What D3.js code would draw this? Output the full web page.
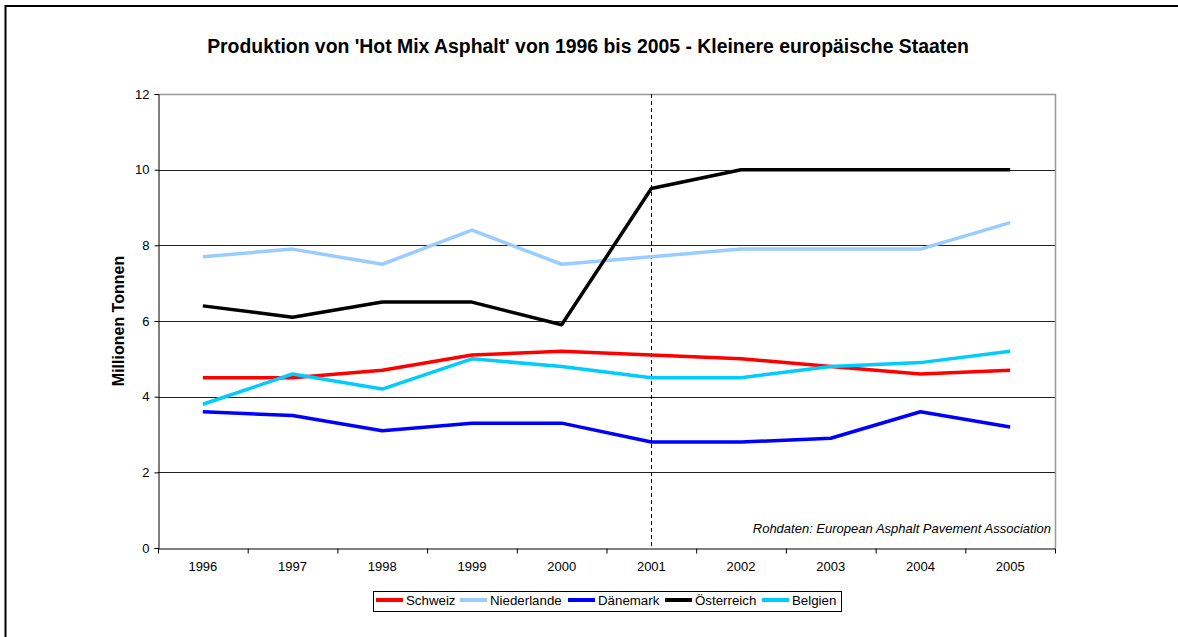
<!DOCTYPE html>
<meta charset="utf-8">
<style>
body { margin: 0; background: #fff; }
text { font-family: Arial, "Liberation Sans", sans-serif; }
.tick text { font-family: Arial, "Liberation Sans", sans-serif; font-size: 13px; fill: #000; }
</style>
<svg width="1178" height="637"></svg>
<script src="https://d3js.org/d3.v7.min.js"></script>
<script>
const years = ['1996', '1997', '1998', '1999', '2000', '2001', '2002', '2003', '2004', '2005'];
const schweiz = [4.5, 4.5, 4.7, 5.1, 5.2, 5.1, 5.0, 4.8, 4.6, 4.7];
const niederlande = [7.7, 7.9, 7.5, 8.4, 7.5, 7.7, 7.9, 7.9, 7.9, 8.6];
const daenemark = [3.6, 3.5, 3.1, 3.3, 3.3, 2.8, 2.8, 2.9, 3.6, 3.2];
const oesterreich = [6.4, 6.1, 6.5, 6.5, 5.9, 9.5, 10, 10, 10, 10];
const belgien = [3.8, 4.6, 4.2, 5.0, 4.8, 4.5, 4.5, 4.8, 4.9, 5.2];
const yTicks = [0, 2, 4, 6, 8, 10, 12];

const series = [
  { name: 'Schweiz', values: schweiz, color: '#FF0000' },
  { name: 'Niederlande', values: niederlande, color: '#99CCFF' },
  { name: 'Dänemark', values: daenemark, color: '#0000FF' },
  { name: 'Österreich', values: oesterreich, color: '#000000' },
  { name: 'Belgien', values: belgien, color: '#00CCFF' }
];

const svg = d3.select('svg');
const pLeft = 158, pRight = 1055, pTop = 94, pBottom = 548;

// outer frame (runs off the right/bottom edge)
svg.append('rect')
  .attr('x', 5.5).attr('y', 6)
  .attr('width', 1300).attr('height', 800)
  .attr('fill', 'none').attr('stroke', '#000').attr('stroke-width', 2);

svg.append('text')
  .attr('x', 588).attr('y', 53)
  .attr('text-anchor', 'middle')
  .attr('font-size', '19.4px').attr('font-weight', 'bold')
  .text("Produktion von 'Hot Mix Asphalt' von 1996 bis 2005 - Kleinere europäische Staaten");

const x = d3.scaleBand().domain(years).range([pLeft, pRight]);
const y = d3.scaleLinear().domain([0, 12]).range([pBottom, pTop]);

// gridlines
svg.append('g')
  .selectAll('line')
  .data(yTicks.filter(d => d > 0 && d < 12))
  .enter().append('line')
    .attr('x1', pLeft).attr('x2', pRight)
    .attr('y1', d => Math.round(y(d)) + 0.5).attr('y2', d => Math.round(y(d)) + 0.5)
    .attr('stroke', '#222').attr('stroke-width', 1);

// plot border top/right
svg.append('path')
  .attr('d', `M${pLeft},${pTop + 0.5}H${pRight + 0.5}V${pBottom}`)
  .attr('fill', 'none').attr('stroke', '#999').attr('stroke-width', 1.5);

// dashed marker at 2001
const x2001 = x('2001') + x.bandwidth() / 2;
svg.append('line')
  .attr('x1', Math.round(x2001) + 0.5).attr('x2', Math.round(x2001) + 0.5)
  .attr('y1', pTop).attr('y2', pBottom)
  .attr('stroke', '#000').attr('stroke-width', 1)
  .attr('stroke-dasharray', '4,3');

// y axis
const yAxis = svg.append('g')
  .attr('transform', `translate(${pLeft + 0.5},0)`)
  .call(d3.axisLeft(y).tickValues(yTicks).tickSize(4).tickPadding(5));
yAxis.select('.domain').attr('stroke', '#000');
yAxis.selectAll('.tick line').attr('stroke', '#000');

// x axis
const xAxis = svg.append('g')
  .attr('transform', `translate(0,${pBottom + 0.5})`)
  .call(d3.axisBottom(x).tickSize(0).tickPadding(13));
xAxis.select('.domain').attr('stroke', '#000');
xAxis.selectAll('.sep')
  .data(years.concat(['end']))
  .enter().append('line')
    .attr('class', 'sep')
    .attr('x1', (d, i) => pLeft + i * x.step() + 0.5)
    .attr('x2', (d, i) => pLeft + i * x.step() + 0.5)
    .attr('y1', 0).attr('y2', 5)
    .attr('stroke', '#000');

svg.append('text')
  .attr('transform', `translate(124,${(pTop + pBottom) / 2}) rotate(-90)`)
  .attr('text-anchor', 'middle')
  .attr('font-size', '16px').attr('font-weight', 'bold')
  .text('Millionen Tonnen');

svg.append('text')
  .attr('x', 1051).attr('y', 533)
  .attr('text-anchor', 'end')
  .attr('font-size', '13px').attr('font-style', 'italic')
  .text('Rohdaten: European Asphalt Pavement Association');

// lines
const line = d3.line()
  .x((d, i) => x(years[i]) + x.bandwidth() / 2)
  .y(d => y(d));

svg.append('g')
  .selectAll('path')
  .data(series)
  .enter().append('path')
    .attr('d', d => line(d.values))
    .attr('fill', 'none')
    .attr('stroke', d => d.color)
    .attr('stroke-width', 3.5)
    .attr('stroke-linejoin', 'round');

// legend
const legend = svg.append('g');
legend.append('rect')
  .attr('x', 373.5).attr('y', 591.5)
  .attr('width', 468).attr('height', 20)
  .attr('fill', '#fff').attr('stroke', '#000').attr('stroke-width', 1);

const legendX = [376, 460, 568, 665, 762];
const items = legend.selectAll('.item')
  .data(series)
  .enter().append('g')
    .attr('class', 'item')
    .attr('transform', (d, i) => `translate(${legendX[i]},600)`);
items.append('line')
  .attr('x1', 0).attr('x2', 27)
  .attr('stroke', d => d.color).attr('stroke-width', 4);
items.append('text')
  .attr('x', 30).attr('y', 5)
  .attr('font-size', '13.3px')
  .text(d => d.name);
</script>
